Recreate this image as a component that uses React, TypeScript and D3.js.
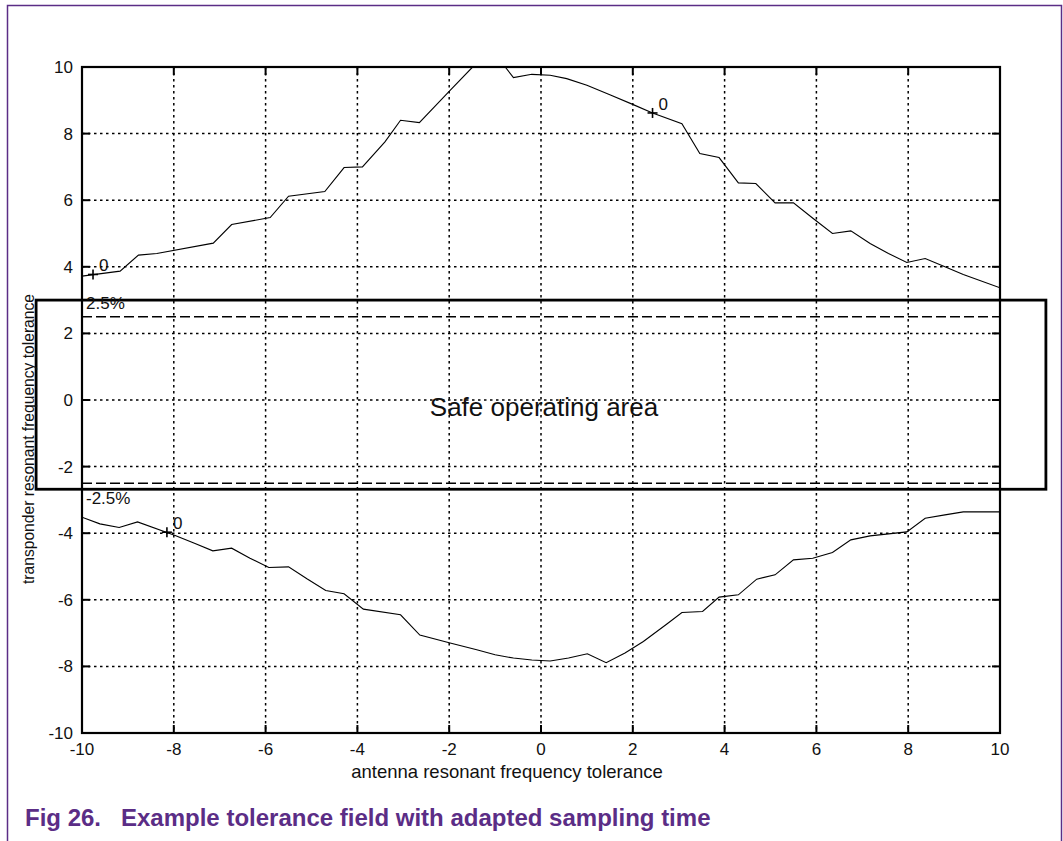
import React from "react";
import * as d3 from "d3";

// ---- data ----
const xTicks = [-10, -8, -6, -4, -2, 0, 2, 4, 6, 8, 10];
const yTicks = [-10, -8, -6, -4, -2, 0, 2, 4, 6, 8, 10];

const upperX = [-10, -9.17, -8.77, -8.37, -7.14, -6.74, -5.9, -5.5, -4.71, -4.29, -3.89, -3.4, -3.06, -2.65, -1.98, -1.49, -1.1, -0.78, -0.6, -0.2, 0.2, 0.56, 1.0, 1.5, 2.01, 2.43, 3.07, 3.46, 3.88, 4.3, 4.68, 5.1, 5.5, 5.93, 6.35, 6.75, 7.17, 7.57, 7.97, 8.37, 8.8, 9.2, 10];
const upperY = [3.72, 3.87, 4.35, 4.4, 4.71, 5.27, 5.48, 6.12, 6.26, 6.98, 7.0, 7.75, 8.4, 8.33, 9.3, 10.0, 10.3, 10.0, 9.68, 9.78, 9.75, 9.65, 9.45, 9.17, 8.87, 8.62, 8.3, 7.4, 7.28, 6.52, 6.5, 5.92, 5.92, 5.45, 5.0, 5.08, 4.7, 4.4, 4.13, 4.25, 4.0, 3.77, 3.37];

const lowerX = [-10, -9.61, -9.19, -8.79, -7.97, -7.55, -7.15, -6.74, -6.34, -5.93, -5.5, -5.1, -4.69, -4.29, -3.87, -3.06, -2.64, -1.98, -1.4, -1.0, -0.6, -0.2, 0.2, 0.6, 1.01, 1.42, 1.83, 2.23, 2.75, 3.07, 3.52, 3.88, 4.3, 4.7, 5.1, 5.5, 5.92, 6.35, 6.75, 7.17, 7.97, 8.37, 8.8, 9.2, 10];
const lowerY = [-3.52, -3.72, -3.83, -3.66, -4.07, -4.3, -4.53, -4.45, -4.75, -5.03, -5.01, -5.37, -5.72, -5.82, -6.28, -6.45, -7.06, -7.3, -7.5, -7.65, -7.75, -7.81, -7.84, -7.75, -7.62, -7.89, -7.6, -7.25, -6.72, -6.38, -6.35, -5.92, -5.85, -5.38, -5.25, -4.8, -4.75, -4.58, -4.2, -4.08, -3.96, -3.55, -3.45, -3.36, -3.36];

const markerX = [-9.76, 2.43, -8.15];
const markerY = [3.77, 8.62, -3.97];
const markerLabels = ["0", "0", "0"];

const limitValues = [2.5, -2.5];
const limitLabels = ["2.5%", "-2.5%"];

const safeX = [-11, 11];
const safeY = [-2.68, 3];
const safeLabel = "Safe operating area";

const xTitle = "antenna resonant frequency tolerance";
const yTitle = "transponder resonant frequency tolerance";
const captionNum = "Fig 26.";
const captionText = "Example tolerance field with adapted sampling time";

const FONT = "'Liberation Sans', Arial, Helvetica, sans-serif";
const PURPLE = "#5b2d86";

export default function App() {
  const W = 1063;
  const H = 841;
  const x = d3.scaleLinear().domain([-10, 10]).range([82, 1000]);
  const y = d3.scaleLinear().domain([-10, 10]).range([733, 67]);

  const line = d3
    .line<[number, number]>()
    .x((d) => x(d[0]))
    .y((d) => y(d[1]));

  const upper = upperX.map((v, i) => [v, upperY[i]] as [number, number]);
  const lower = lowerX.map((v, i) => [v, lowerY[i]] as [number, number]);

  const [x0, x1] = x.range();
  const [y0, y1] = y.range(); // y0 bottom, y1 top
  const tickLen = 8;

  return (
    <svg
      width={W}
      height={H}
      style={{ position: "absolute", left: 0, top: 0, background: "#fff" }}
      fontFamily={FONT}
    >
      <defs>
        <clipPath id="plotClip">
          <rect x={x0} y={y1} width={x1 - x0} height={y0 - y1} />
        </clipPath>
      </defs>
      {/* purple page frame */}
      <path
        d={`M7.5,${H} L7.5,5.5 L1061.5,5.5 L1061.5,${H}`}
        fill="none"
        stroke={PURPLE}
        strokeWidth={1.5}
      />

      {/* grid */}
      {xTicks
        .filter((t) => t !== -10 && t !== 10)
        .map((t) => (
          <line
            key={"gx" + t}
            x1={x(t)}
            x2={x(t)}
            y1={y1}
            y2={y0}
            stroke="#000"
            strokeWidth={1.5}
            strokeDasharray="2.5,3.5"
          />
        ))}
      {yTicks
        .filter((t) => t !== -10 && t !== 10)
        .map((t) => (
          <line
            key={"gy" + t}
            x1={x0}
            x2={x1}
            y1={y(t)}
            y2={y(t)}
            stroke="#000"
            strokeWidth={1.5}
            strokeDasharray="2.5,3.5"
          />
        ))}

      {/* ticks, inward on all sides */}
      {xTicks.map((t) => (
        <g key={"tx" + t}>
          <line x1={x(t)} x2={x(t)} y1={y0} y2={y0 - tickLen} stroke="#000" strokeWidth={2} />
          <line x1={x(t)} x2={x(t)} y1={y1} y2={y1 + tickLen} stroke="#000" strokeWidth={2} />
        </g>
      ))}
      {yTicks.map((t) => (
        <g key={"ty" + t}>
          <line x1={x0} x2={x0 + tickLen} y1={y(t)} y2={y(t)} stroke="#000" strokeWidth={2} />
          <line x1={x1} x2={x1 - tickLen} y1={y(t)} y2={y(t)} stroke="#000" strokeWidth={2} />
        </g>
      ))}

      {/* limit dashed lines */}
      {limitValues.map((v) => (
        <line
          key={"lim" + v}
          x1={x0}
          x2={x1}
          y1={y(v)}
          y2={y(v)}
          stroke="#000"
          strokeWidth={1.7}
          strokeDasharray="10,4"
        />
      ))}

      {/* curves */}
      <g clipPath="url(#plotClip)">
        <path d={line(upper) || ""} fill="none" stroke="#000" strokeWidth={1.1} />
        <path d={line(lower) || ""} fill="none" stroke="#000" strokeWidth={1.1} />
      </g>

      {/* frame */}
      <rect x={x0} y={y1} width={x1 - x0} height={y0 - y1} fill="none" stroke="#000" strokeWidth={2.2} />

      {/* safe operating area */}
      <rect
        x={x(safeX[0])}
        y={y(safeY[1])}
        width={x(safeX[1]) - x(safeX[0])}
        height={y(safeY[0]) - y(safeY[1])}
        fill="none"
        stroke="#000"
        strokeWidth={2.8}
      />
      <text x={x(0) + 3} y={416} fontSize={26} textAnchor="middle" fill="#111">
        {safeLabel}
      </text>

      {/* limit labels */}
      <text x={86} y={309} fontSize={17} fill="#111">
        {limitLabels[0]}
      </text>
      <text x={86} y={503.5} fontSize={17} fill="#111">
        {limitLabels[1]}
      </text>

      {/* markers */}
      {markerX.map((mx, i) => (
        <g key={"m" + i}>
          <line x1={x(mx) - 5} x2={x(mx) + 5} y1={y(markerY[i])} y2={y(markerY[i])} stroke="#000" strokeWidth={1.6} />
          <line x1={x(mx)} x2={x(mx)} y1={y(markerY[i]) - 5} y2={y(markerY[i]) + 5} stroke="#000" strokeWidth={1.6} />
          <text x={x(mx) + 6} y={y(markerY[i]) - 3} fontSize={17} fill="#111">
            {markerLabels[i]}
          </text>
        </g>
      ))}

      {/* tick labels */}
      {xTicks.map((t) => (
        <text key={"xl" + t} x={x(t)} y={755} fontSize={17} textAnchor="middle" fill="#111">
          {t}
        </text>
      ))}
      {yTicks.map((t) => (
        <text key={"yl" + t} x={73} y={y(t) + 6} fontSize={17} textAnchor="end" fill="#111">
          {t}
        </text>
      ))}

      {/* axis titles */}
      <text x={507} y={778} fontSize={18.5} textAnchor="middle" fill="#111">
        {xTitle}
      </text>
      <text
        transform={`translate(33.5,439) rotate(-90)`}
        fontSize={17}
        textAnchor="middle"
        textLength={290}
        lengthAdjust="spacingAndGlyphs"
        fill="#111"
      >
        {yTitle}
      </text>

      {/* caption */}
      <text x={25} y={826} fontSize={24} fontWeight="bold" fill={PURPLE}>
        {captionNum}
      </text>
      <text x={121} y={826} fontSize={24} fontWeight="bold" fill={PURPLE}>
        {captionText}
      </text>
    </svg>
  );
}
